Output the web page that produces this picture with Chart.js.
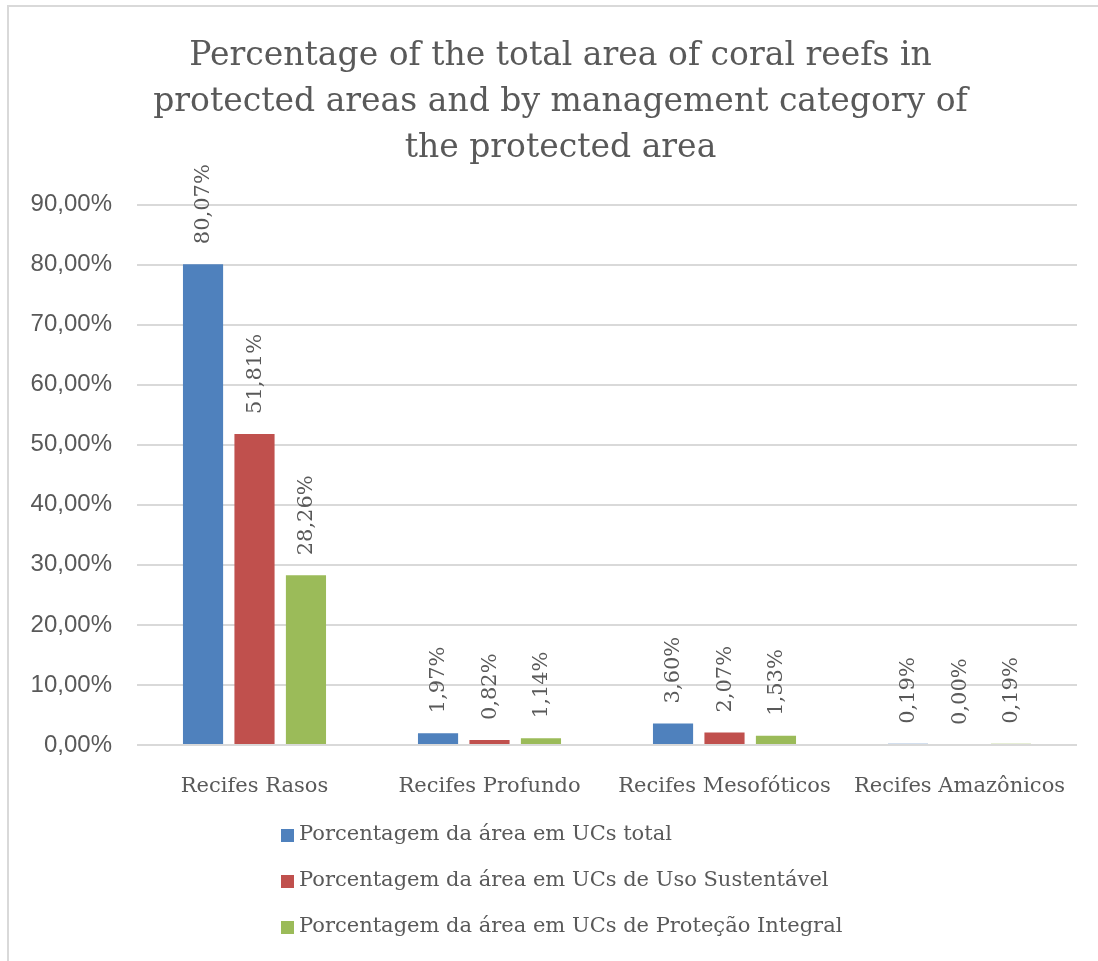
<!DOCTYPE html>
<html>
<head>
<meta charset="utf-8">
<script src="https://cdn.jsdelivr.net/npm/chart.js@4/dist/chart.umd.min.js"></script>
<style>
  html, body { margin: 0; padding: 0; background: #fff; overflow: hidden; }
  #wrap { position: relative; width: 1098px; height: 961px; }
</style>
</head>
<body>
<div id="wrap"><canvas id="chart" width="1098" height="961"></canvas></div>
<script>
// chart data
const categories = ["Recifes Rasos", "Recifes Profundo", "Recifes Mesofóticos", "Recifes Amazônicos"];
const seriesNames = [
  "Porcentagem da área em UCs total",
  "Porcentagem da área em UCs de Uso Sustentável",
  "Porcentagem da área em UCs de Proteção Integral",
];
const totalUC = [80.07, 1.97, 3.60, 0.19];
const usoSustentavel = [51.81, 0.82, 2.07, 0.00];
const protecaoIntegral = [28.26, 1.14, 1.53, 0.19];
const titleLines = [
  "Percentage of the total area of coral reefs in",
  "protected areas and by management category of",
  "the protected area",
];

const colors = ["#4f81bd", "#c0504d", "#9bbb59"];
const serif = "'DejaVu Serif', 'Liberation Serif', serif";
const textColor = "#595959";

const fmt = (v) => v.toFixed(2).replace(".", ",") + "%";

// frame lines along top and left (rest is cropped in the original)
const framePlugin = {
  id: "frame",
  afterLayout(chart) {
    // title in the original is centred a bit right of the canvas middle
    chart.titleBlock.left += 34;
  },
  beforeDraw(chart) {
    const ctx = chart.ctx;
    ctx.save();
    ctx.strokeStyle = "#d9d9d9";
    ctx.lineWidth = 2;
    ctx.beginPath();
    ctx.moveTo(8, chart.height);
    ctx.lineTo(8, 6);
    ctx.lineTo(chart.width, 6);
    ctx.stroke();
    ctx.restore();
  },
};

// rotated value labels above each bar
const valueLabels = {
  id: "valueLabels",
  afterDatasetsDraw(chart) {
    const ctx = chart.ctx;
    ctx.save();
    ctx.font = "21px " + serif;
    ctx.fillStyle = textColor;
    ctx.textAlign = "left";
    ctx.textBaseline = "middle";
    chart.data.datasets.forEach((ds, i) => {
      chart.getDatasetMeta(i).data.forEach((bar, j) => {
        ctx.save();
        ctx.translate(bar.x + 1, bar.y - 20);
        ctx.rotate(-Math.PI / 2);
        ctx.fillText(fmt(ds.data[j]), 0, 0);
        ctx.restore();
      });
    });
    ctx.restore();
  },
};

// vertical legend under the axis
const vLegend = {
  id: "vLegend",
  afterDraw(chart) {
    const ctx = chart.ctx;
    ctx.save();
    ctx.font = "21px " + serif;
    ctx.textBaseline = "middle";
    chart.data.datasets.forEach((ds, i) => {
      const y = 835 + i * 46;
      ctx.fillStyle = ds.backgroundColor;
      ctx.fillRect(281, y - 6, 13, 13);
      ctx.fillStyle = textColor;
      ctx.fillText(ds.label, 299, y);
    });
    ctx.restore();
  },
};

const seriesData = [totalUC, usoSustentavel, protecaoIntegral];

new Chart(document.getElementById("chart"), {
  type: "bar",
  data: {
    labels: categories,
    datasets: seriesNames.map((name, i) => ({
      label: name,
      data: seriesData[i],
      backgroundColor: colors[i],
      borderWidth: 0,
      categoryPercentage: 0.657,
      barPercentage: 0.78,
    })),
  },
  options: {
    responsive: false,
    animation: false,
    layout: { padding: { left: 10, right: 21, top: 0, bottom: 146 } },
    scales: {
      x: {
        grid: { display: false },
        border: { display: false },
        ticks: {
          color: textColor,
          font: { family: serif, size: 21 },
          padding: 21,
          maxRotation: 0,
          autoSkip: false,
        },
        afterFit(scale) { scale.height = 70; },
      },
      y: {
        min: 0,
        max: 90,
        grid: { color: "#d9d9d9", lineWidth: 2, drawTicks: false },
        border: { display: false },
        ticks: {
          stepSize: 10,
          color: textColor,
          font: { family: "'Liberation Sans', Arial, sans-serif", size: 24 },
          padding: 25,
          callback: (v) => fmt(v),
        },
        afterFit(scale) { scale.width = 127; },
      },
    },
    plugins: {
      legend: { display: false },
      tooltip: { enabled: false },
      title: {
        display: true,
        text: titleLines,
        color: textColor,
        font: { family: serif, size: 33, weight: "normal", lineHeight: 1.4 },
        padding: { top: 33, bottom: 33 },
      },
    },
  },
  plugins: [framePlugin, valueLabels, vLegend],
});
</script>
</body>
</html>
